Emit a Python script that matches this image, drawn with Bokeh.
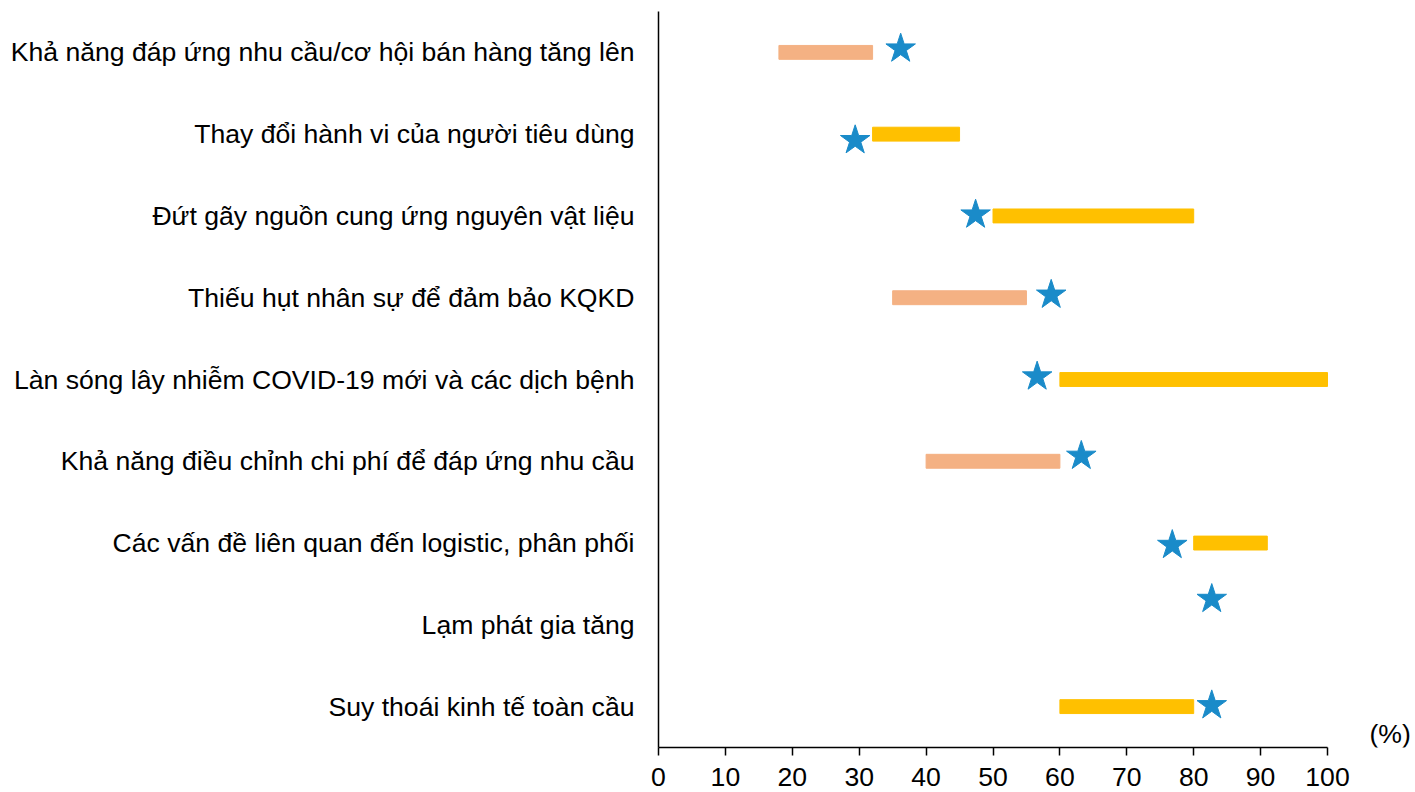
from bokeh.plotting import figure
from bokeh.models import ColumnDataSource, FixedTicker, Label, Range1d
from bokeh.embed import file_html
from bokeh.resources import INLINE

# ---- data (top row first) ----
categories = [
    "Khả năng đáp ứng nhu cầu/cơ hội bán hàng tăng lên",
    "Thay đổi hành vi của người tiêu dùng",
    "Đứt gãy nguồn cung ứng nguyên vật liệu",
    "Thiếu hụt nhân sự để đảm bảo KQKD",
    "Làn sóng lây nhiễm COVID-19 mới và các dịch bệnh",
    "Khả năng điều chỉnh chi phí để đáp ứng nhu cầu",
    "Các vấn đề liên quan đến logistic, phân phối",
    "Lạm phát gia tăng",
    "Suy thoái kinh tế toàn cầu",
]
bar_start = [18, 32, 50, 35, 60, 40, 80, None, 60]
bar_end = [32, 45, 80, 55, 100, 60, 91, None, 80]
bar_group = ["cam", "vang", "vang", "cam", "vang", "cam", "vang", None, "vang"]
star_values = [36.2, 29.4, 47.4, 58.7, 56.6, 63.2, 76.8, 82.7, 82.7]
star_shift = [0.045, -0.075, 0.015, 0.035, 0.035, 0.065, -0.025, 0.315, 0.015]
x_ticks = [0, 10, 20, 30, 40, 50, 60, 70, 80, 90, 100]
unit_label = "(%)"

# ---- styles / layout ----
FONT = "Liberation Sans"
FS = "26.6px"
group_colors = {"cam": "#F4B183", "vang": "#FFC000"}
STAR_COLOR = "#1A8BC9"

W, H = 1415, 792
LEFT = 658          # frame left (canvas px)
X100 = 1327         # canvas px where x = 100
x_end = 100.0 * (W - LEFT) / (X100 - LEFT)

n = len(categories)
row_y = [n - i for i in range(n)]

bx, bl, br, bc = [], [], [], []
for i in range(n):
    if bar_start[i] is None:
        continue
    bx.append(row_y[i])
    bl.append(bar_start[i])
    br.append(bar_end[i])
    bc.append(group_colors[bar_group[i]])
bar_src = ColumnDataSource(dict(y=bx, left=bl, right=br, color=bc))
star_src = ColumnDataSource(dict(x=star_values, y=[row_y[i] + star_shift[i] for i in range(n)]))

p = figure(width=W, height=H, x_range=Range1d(0, x_end), y_range=Range1d(0.5, n + 0.5),
           output_backend="svg", toolbar_location=None,
           min_border_left=LEFT, min_border_right=0, min_border_top=11, min_border_bottom=45)
p.outline_line_color = None
p.xgrid.grid_line_color = None
p.ygrid.grid_line_color = None
p.background_fill_color = "white"
p.border_fill_color = "white"

p.hbar(y="y", left="left", right="right", height=0.17, color="color", source=bar_src)
p.scatter(x="x", y="y", marker="star", size=31, fill_color=STAR_COLOR, line_color=STAR_COLOR,
          source=star_src)

# x axis
xa = p.xaxis[0]
xa.ticker = FixedTicker(ticks=x_ticks)
xa.bounds = (0, 100)
xa.axis_line_color = "black"
xa.axis_line_width = 1.5
xa.major_tick_line_color = "black"
xa.major_tick_line_width = 1.5
xa.major_tick_out = 8
xa.major_tick_in = 0
xa.minor_tick_out = 0
xa.minor_tick_in = 0
xa.major_label_text_font = FONT
xa.major_label_text_font_size = FS
xa.major_label_text_color = "black"
xa.major_label_standoff = 12

# y axis
ya = p.yaxis[0]
ya.ticker = FixedTicker(ticks=row_y)
ya.major_label_overrides = {row_y[i]: categories[i] for i in range(n)}
ya.axis_line_color = "black"
ya.axis_line_width = 1.5
ya.major_tick_out = 0
ya.major_tick_in = 0
ya.minor_tick_out = 0
ya.minor_tick_in = 0
ya.major_label_text_font = FONT
ya.major_label_text_font_size = FS
ya.major_label_text_color = "black"
ya.major_label_standoff = 24

p.add_layout(Label(x=x_end - 0.7, y=0.66, text=unit_label, text_align="right",
                   text_baseline="middle", text_font=FONT, text_font_size=FS,
                   text_color="black"))

open("out.html", "w").write(file_html(p, INLINE))
